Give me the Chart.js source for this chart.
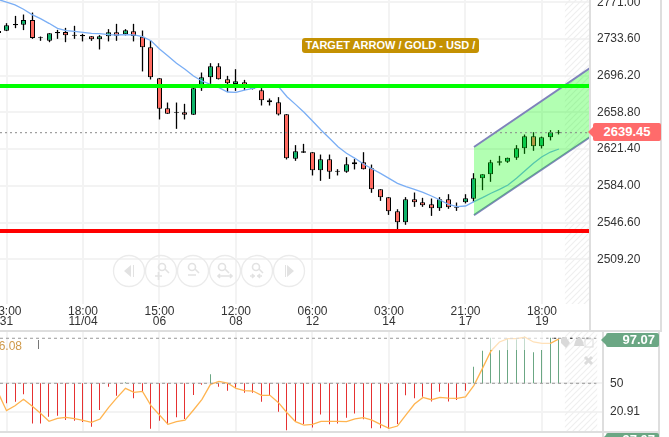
<!DOCTYPE html>
<html>
<head>
<meta charset="utf-8">
<script src="https://cdn.jsdelivr.net/npm/chart.js@4"></script>
<style>
  html, body { margin: 0; background: #fff; overflow: hidden; }
  #page { position: relative; width: 669px; height: 437px; overflow: hidden; font-family: "Liberation Sans", Arial, sans-serif; }
  canvas { position: absolute; left: 0; }
  .rule { position: absolute; background: #dedede; }
  .tag { position: absolute; color: #fff; font-weight: bold; text-align: center; border-radius: 2px; }
  .tag:before { content: ""; position: absolute; left: -5px; top: 50%; margin-top: -5px; border: 5px solid transparent; border-left: 0; border-right-color: inherit; }
</style>
</head>
<body>
<div id="page">
  <canvas id="price" width="662" height="330" style="top:0"></canvas>
  <canvas id="rsi" width="659" height="99" style="top:332px"></canvas>

  <div class="rule" style="left:589px;top:0;width:2px;height:330px"></div>
  <div class="rule" style="left:660px;top:0;width:2px;height:331px"></div>
  <div class="rule" style="left:0;top:330px;width:662px;height:2px"></div>
  <div class="rule" style="left:0;top:431px;width:660px;height:2px"></div>
  <div class="rule" style="left:602px;top:332px;width:2px;height:105px"></div>
  <div class="rule" style="left:658px;top:332px;width:2px;height:105px"></div>

  <div style="position:absolute;left:302px;top:38px;width:177px;height:15px;line-height:15px;background:#c49102;color:#fff;font-size:11px;font-weight:bold;text-align:center;border-radius:3px">TARGET ARROW / GOLD - USD /</div>

  <div class="tag" style="left:593px;top:123px;width:68px;height:18px;line-height:18px;font-size:13px;background:#ff6b6b;border-color:#ff6b6b">2639.45</div>
  <div class="tag" style="left:606px;top:333px;width:49px;padding-right:4px;text-align:right;height:14px;line-height:13px;font-size:13px;background:#6ba784;border-color:#6ba784">97.07</div>
  <div class="tag" style="left:606px;top:433px;width:49px;padding-right:4px;text-align:right;height:14px;line-height:13px;font-size:13px;background:#6ba784;border-color:#6ba784">97.07</div>

  <div style="position:absolute;left:-8px;top:339px;color:#cf9a4a;font-size:12px">96.08</div>
  <div style="position:absolute;left:38px;top:340px;width:1px;height:9px;background:#777"></div>
  <div style="position:absolute;left:490px;top:333px;width:60px;height:17px;background:rgba(255,255,255,.6)"></div>

  <svg style="position:absolute;left:0;top:0" width="669" height="437" fill="#e2e2e2" stroke="none">
    <g fill="none" stroke="#ebebeb" stroke-width="1.3">
      <circle cx="129" cy="271" r="15.5"/><circle cx="161" cy="271" r="15.5"/><circle cx="193" cy="271" r="15.5"/>
      <circle cx="225" cy="271" r="15.5"/><circle cx="257" cy="271" r="15.5"/><circle cx="289" cy="271" r="15.5"/>
    </g>
    <path d="M131 265v12l-7-6zM133 265h1v12h-1z"/>
    <path d="M287 265v12l7-6zM285 265h1v12h-1z"/>
    <g fill="none" stroke="#e2e2e2" stroke-width="1.6">
      <circle cx="162" cy="267" r="3.5"/><path d="M165 269l4 4M155 276h7M158.500 272v8"/>
      <circle cx="192" cy="267" r="3.500"/><path d="M195 269l4 4M188 275h8"/>
      <circle cx="222" cy="267" r="3.500"/><path d="M225 269l4 4M218 276h14M220 274l-2 2 2 2M230 274l2 2-2 2"/>
      <circle cx="256" cy="267" r="3.500"/><path d="M259 269l4 4M250 276h5M252 274l2 2-2 2M262 276h-5M260 274l-2 2 2 2"/>
    </g>
    <path d="M561 338l5-1 4 6-4 5-5-5z" fill="#d9d9d9"/>
    <path d="M570 346c1-6 3-8 5-8s4 2 5 8z" fill="#d9d9d9" transform="translate(4 0)"/>
    <rect x="585" y="339" width="8" height="8" fill="none" stroke="#ddd"/>
    <path d="M585 357l7 7M592 357l-7 7" stroke="#dcdcdc" stroke-width="3" fill="none"/>
  </svg>
</div>

<script>
// chart values
const tickIdx = [0, 9, 18, 27, 36, 45, 54, 63];
const tickLabels = [["03:00", "31"], ["18:00", "11/04"], ["15:00", "06"], ["12:00", "08"], ["06:00", "12"], ["03:00", "14"], ["21:00", "17"], ["18:00", "19"]];
const priceTicks = [2771, 2733.6, 2696.2, 2658.8, 2621.4, 2584, 2546.6, 2509.2];
const rsiTicks = [50, 20.91];

// first candle sits at index -1, just off the left edge
const opens = [2739.7, 2742.1, 2747.6, 2748.2, 2753.0, 2734.6, 2731.9, 2739.4, 2740.7, 2737.0, 2736.4, 2736.4, 2733.3, 2736.4, 2740.4, 2738.4, 2741.4, 2736.0, 2725.1, 2693.6, 2663.0, 2658.2, 2658.9, 2656.4, 2683.4, 2694.6, 2705.8, 2692.5, 2687.7, 2689.5, 2683.0, 2681.3, 2671.1, 2669.1, 2656.9, 2611.6, 2617.7, 2618.1, 2599.8, 2611.0, 2598.4, 2598.4, 2605.9, 2608.0, 2601.8, 2580.4, 2572.3, 2558.0, 2546.8, 2570.2, 2567.2, 2565.1, 2561.1, 2570.2, 2561.7, 2567.2, 2570.9, 2591.6, 2595.7, 2607.5, 2608.6, 2612.6, 2622.2, 2634.4, 2624.2, 2633.4, 2637.8];
const closes = [2741.8, 2747.6, 2748.9, 2753.0, 2734.6, 2735.3, 2739.4, 2740.7, 2737.4, 2738.0, 2737.7, 2733.3, 2736.4, 2740.4, 2737.0, 2742.5, 2736.7, 2725.1, 2694.6, 2662.6, 2657.5, 2658.9, 2656.4, 2683.4, 2694.6, 2705.8, 2692.5, 2688.5, 2690.5, 2686.4, 2683.7, 2671.1, 2669.1, 2656.7, 2612.0, 2619.2, 2619.2, 2599.8, 2611.0, 2598.4, 2599.4, 2605.9, 2608.0, 2600.8, 2580.4, 2572.3, 2558.0, 2546.8, 2570.2, 2567.2, 2564.1, 2561.1, 2570.2, 2562.1, 2562.7, 2571.3, 2591.6, 2595.7, 2608.0, 2609.0, 2612.6, 2622.2, 2634.4, 2624.2, 2633.4, 2638.5, 2638.5];
const highs = [2742.8, 2749.6, 2757.0, 2758.4, 2760.4, 2736.0, 2739.4, 2742.8, 2744.8, 2746.9, 2738.7, 2736.4, 2737.4, 2743.5, 2748.9, 2743.5, 2748.9, 2742.1, 2731.9, 2693.6, 2668.7, 2668.7, 2667.4, 2685.7, 2699.3, 2708.8, 2708.8, 2695.9, 2702.7, 2691.8, 2684.4, 2683.4, 2672.8, 2674.2, 2656.9, 2625.3, 2626.6, 2618.1, 2615.7, 2615.7, 2600.8, 2613.0, 2611.0, 2618.1, 2605.5, 2580.4, 2572.3, 2560.0, 2572.3, 2577.0, 2571.6, 2570.9, 2572.3, 2575.3, 2566.8, 2575.3, 2596.7, 2595.7, 2610.3, 2614.4, 2612.6, 2625.3, 2636.1, 2638.5, 2634.0, 2640.6, 2640.6];
const lows = [2738.7, 2741.8, 2744.8, 2742.8, 2733.9, 2731.9, 2730.5, 2733.9, 2730.5, 2733.9, 2731.3, 2731.9, 2723.1, 2731.3, 2731.9, 2737.4, 2731.3, 2700.7, 2692.5, 2651.8, 2657.5, 2642.2, 2651.8, 2656.4, 2680.9, 2684.4, 2692.5, 2679.6, 2680.9, 2681.6, 2682.3, 2666.0, 2666.0, 2655.8, 2611.0, 2609.6, 2617.7, 2594.7, 2589.2, 2591.2, 2594.7, 2597.4, 2600.8, 2600.8, 2577.0, 2568.8, 2554.5, 2539.0, 2544.4, 2562.7, 2562.7, 2553.5, 2558.6, 2560.7, 2558.6, 2566.2, 2567.5, 2579.7, 2588.2, 2604.9, 2607.5, 2610.6, 2616.7, 2619.8, 2622.2, 2630.4, 2636.5];
const maLine = [2773.9, 2771.3, 2768.3, 2763.9, 2758.4, 2754.3, 2749.6, 2744.5, 2742.1, 2741.4, 2740.4, 2739.4, 2739.0, 2738.0, 2737.7, 2738.0, 2737.7, 2736.0, 2731.9, 2723.4, 2716.3, 2708.8, 2702.7, 2695.9, 2690.8, 2687.4, 2684.0, 2679.6, 2679.3, 2681.6, 2683.4, 2685.7, 2685.7, 2685.0, 2674.8, 2667.0, 2658.9, 2650.0, 2640.9, 2632.4, 2623.9, 2617.1, 2612.0, 2606.2, 2601.4, 2596.7, 2591.6, 2586.5, 2583.1, 2580.4, 2577.4, 2573.6, 2569.5, 2565.1, 2562.7, 2563.4, 2567.8, 2571.9, 2576.4, 2580.4, 2584.8, 2591.6, 2599.4, 2606.9, 2613.6, 2618.4, 2621.5];

const lastPriceLine = 2638.1;
const resistance = 2685.7;
const support = 2537.9;
const channelStart = 55;
const channelEnd = 68.65;
const channelUpper = [2623.5, 2704.0];
const channelLower = [2554.2, 2633.7];

const rsiLine = [40.8, 22.0, 27.1, 33.6, 26.8, 19.3, 11.1, 14.1, 15.2, 13.8, 12.1, 10.0, 13.5, 25.1, 35.3, 44.9, 40.8, 41.8, 27.1, 17.6, 8.0, 10.7, 12.4, 22.7, 33.6, 48.9, 52.0, 50.3, 44.9, 42.5, 42.1, 37.7, 37.7, 30.2, 19.9, 10.7, 7.3, 8.0, 11.1, 11.1, 11.1, 10.7, 13.5, 14.8, 12.4, 8.0, 3.9, 6.3, 17.6, 28.8, 35.6, 33.2, 35.6, 34.9, 34.6, 36.0, 47.9, 65.3, 83.1, 92.3, 95.7, 95.7, 97.1, 92.3, 90.9, 90.9, 95.4];
const rsiBars = [41.0, 29.5, 31.2, 38.7, 9.0, 9.0, 15.8, 16.9, 12.4, 11.8, 10.4, 5.6, 22.7, 46.6, 37.3, 51.0, 34.6, 41.4, 3.6, 11.8, 8.0, 15.2, 13.5, 38.0, 48.6, 59.2, 46.6, 42.5, 44.9, 40.4, 40.4, 31.2, 38.0, 21.0, 1.9, 10.7, 8.3, 4.9, 18.2, 8.0, 9.0, 14.8, 19.2, 13.1, 3.9, 3.9, 3.2, 8.3, 37.7, 34.6, 36.3, 31.5, 41.4, 31.5, 32.9, 42.5, 67.0, 83.4, 96.7, 83.8, 96.0, 95.0, 97.8, 81.7, 84.1, 96.7, 96.0];
const rsiMid = 50;
const rsiUpper = 96.08;

const gridColor = "#f3f3f3";
const textColor = "#333";
const font = { family: "Liberation Sans", size: 12 };

// snap candles to whole pixels so the wicks stay crisp
const snapBars = {
  id: "snapBars",
  afterDatasetsUpdate(chart) {
    chart.getSortedVisibleDatasetMetas().forEach((meta) => {
      if (meta.type === "bar") {
        meta.data.forEach((el) => { el.x = Math.floor(el.x) + 0.5; });
      }
    });
  },
};

// striped zone on the right of each panel
const hatch = {
  id: "hatch",
  beforeDatasetsDraw(chart, args, opts) {
    const off = document.createElement("canvas");
    off.width = off.height = 6;
    const o = off.getContext("2d");
    o.strokeStyle = "#efefef";
    o.lineWidth = 1.2;
    o.beginPath();
    o.moveTo(-1, 7); o.lineTo(7, -1);
    o.moveTo(-1, 1); o.lineTo(1, -1);
    o.moveTo(5, 7); o.lineTo(7, 5);
    o.stroke();
    const { ctx, chartArea, scales } = chart;
    const left = scales.x.getPixelForValue(opts.from);
    const right = scales.x.getPixelForValue(opts.to);
    ctx.save();
    ctx.fillStyle = ctx.createPattern(off, "repeat");
    ctx.fillRect(left, chartArea.top, right - left, chartArea.bottom - chartArea.top);
    ctx.restore();
  },
};

function xAxis(maxIdx, labelled) {
  return {
    type: "linear",
    min: -0.765,
    max: maxIdx,
    offset: false,
    afterBuildTicks: (s) => { s.ticks = tickIdx.map((v) => ({ value: v })); },
    afterFit: (s) => { s.height = labelled ? 26 : 0; s.paddingLeft = 0; s.paddingRight = 0; },
    grid: { offset: false, color: gridColor, lineWidth: 2, drawTicks: false },
    border: { display: false },
    ticks: {
      display: labelled,
      autoSkip: false,
      maxRotation: 0,
      padding: 2,
      color: textColor,
      font: { ...font, lineHeight: 0.88 },
      callback: (v) => tickLabels[tickIdx.indexOf(v)],
    },
  };
}

function yAxis(min, max, values, width, format) {
  return {
    position: "right",
    min,
    max,
    afterBuildTicks: (s) => { s.ticks = values.map((v) => ({ value: v })); },
    afterFit: (s) => { s.width = width; s.paddingTop = 0; s.paddingBottom = 0; },
    grid: { color: gridColor, lineWidth: 2, drawTicks: false },
    border: { display: false },
    ticks: { padding: 7, color: textColor, font, callback: format },
  };
}

const barColor = (i) => (closes[i] >= opens[i] ? "#0fb36a" : "#ff6a60");

new Chart(document.getElementById("price"), {
  type: "bar",
  plugins: [snapBars, hatch],
  data: {
    datasets: [
      {
        data: highs.map((h, i) => ({ x: i - 1, y: [lows[i], h] })),
        barThickness: 1,
        inflateAmount: 0.15,
        backgroundColor: "#000",
        grouped: false,
        order: 6,
      },
      {
        data: opens.map((o, i) => ({ x: i - 1, y: [o, closes[i]] })),
        barThickness: 5,
        inflateAmount: 0,
        backgroundColor: opens.map((o, i) => barColor(i)),
        borderColor: "#000",
        borderWidth: 1,
        borderSkipped: false,
        grouped: false,
        order: 5,
      },
      {
        type: "line",
        data: maLine.map((v, i) => ({ x: i - 1, y: v })),
        borderColor: "#7aaef5",
        borderWidth: 1.3,
        pointRadius: 0,
        order: 4,
      },
      {
        type: "line",
        data: [{ x: channelStart, y: channelUpper[0] }, { x: channelEnd, y: channelUpper[1] }],
        borderColor: "#7f83bb",
        borderWidth: 2,
        pointRadius: 0,
        backgroundColor: "rgba(0,255,0,0.3)",
        fill: "+1",
        order: 3,
      },
      {
        type: "line",
        data: [{ x: channelStart, y: channelLower[0] }, { x: channelEnd, y: channelLower[1] }],
        borderColor: "#7f83bb",
        borderWidth: 2,
        pointRadius: 0,
        order: 3,
      },
      {
        type: "line",
        data: [{ x: -0.765, y: lastPriceLine }, { x: channelEnd, y: lastPriceLine }],
        borderColor: "#888",
        borderWidth: 1,
        borderDash: [2, 3],
        pointRadius: 0,
        order: 2,
      },
      {
        type: "line",
        data: [{ x: -0.765, y: resistance }, { x: channelEnd, y: resistance }],
        borderColor: "#00ff00",
        borderWidth: 4,
        pointRadius: 0,
        order: 1,
      },
      {
        type: "line",
        data: [{ x: -0.765, y: support }, { x: channelEnd, y: support }],
        borderColor: "#ff0000",
        borderWidth: 4,
        pointRadius: 0,
        order: 1,
      },
    ],
  },
  options: {
    responsive: false,
    animation: false,
    events: [],
    layout: { padding: 0 },
    plugins: { legend: { display: false }, tooltip: { enabled: false }, hatch: { from: 65.7, to: 68.65 } },
    scales: {
      x: xAxis(68.65, true),
      y: yAxis(2463.55, 2773.35, priceTicks, 72, (v) => v.toFixed(2)),
    },
  },
});

new Chart(document.getElementById("rsi"), {
  type: "bar",
  plugins: [snapBars, hatch],
  data: {
    datasets: [
      {
        data: rsiBars.map((v, i) => ({ x: i - 1, y: [rsiMid, v] })),
        barThickness: 1,
        inflateAmount: 0,
        backgroundColor: rsiBars.map((v) => (v >= rsiMid ? "#6ba784" : "#e53131")),
        grouped: false,
        order: 4,
      },
      {
        type: "line",
        data: rsiLine.map((v, i) => ({ x: i - 1, y: v })),
        borderColor: "#ffb450",
        borderWidth: 1.3,
        pointRadius: 0,
        order: 3,
      },
      {
        type: "line",
        data: [{ x: -0.765, y: rsiMid }, { x: 69.4, y: rsiMid }],
        borderColor: "#999",
        borderWidth: 1,
        borderDash: [3, 3],
        pointRadius: 0,
        order: 2,
      },
      {
        type: "line",
        data: [{ x: -0.765, y: rsiUpper }, { x: 69.4, y: rsiUpper }],
        borderColor: "#999",
        borderWidth: 1,
        borderDash: [3, 3],
        pointRadius: 0,
        order: 2,
      },
      {
        type: "line",
        data: [{ x: 63.5, y: rsiUpper }, { x: 68.6, y: rsiUpper }],
        borderColor: "#222",
        borderWidth: 1,
        borderDash: [2, 6],
        pointRadius: 0,
        order: 1,
      },
    ],
  },
  options: {
    responsive: false,
    animation: false,
    events: [],
    layout: { padding: 0 },
    plugins: { legend: { display: false }, tooltip: { enabled: false }, hatch: { from: 65.7, to: 69.5 } },
    scales: {
      x: xAxis(70.18, false),
      y: yAxis(1.2, 102.5, rsiTicks, 56, (v) => String(v)),
    },
  },
});
</script>
</body>
</html>
